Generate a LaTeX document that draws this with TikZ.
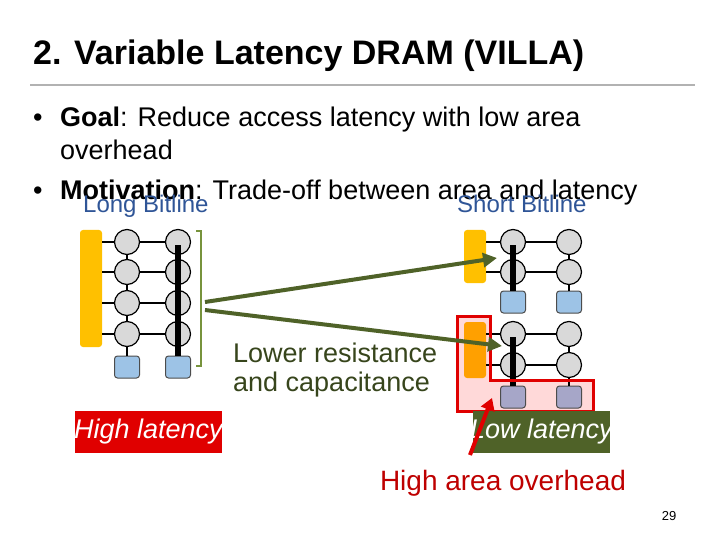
\documentclass[tikz,border=0pt]{standalone}
\usepackage{fontspec}
\setmainfont{Liberation Sans}
\usetikzlibrary{arrows.meta}
\definecolor{olive}{HTML}{4F6228}
\definecolor{olivel}{HTML}{77933C}
\definecolor{cellg}{HTML}{D9D9D9}
\definecolor{sqb}{HTML}{9DC3E6}
\definecolor{sqp}{HTML}{A6A6C8}
\definecolor{barY}{HTML}{FFC000}
\definecolor{barO}{HTML}{FFA000}
\definecolor{bl}{HTML}{2F5597}
\definecolor{redA}{HTML}{E00000}
\tikzset{
 cell/.style={circle,draw=black,line width=1.2pt,fill=cellg,minimum size=25pt,inner sep=0},
 sq/.style={rounded corners=3pt,draw=black!70,line width=1pt,fill=sqb,minimum width=25pt,minimum height=22pt,inner sep=0},
 wl/.style={line width=1.2pt},
 txt/.style={anchor=base west,inner sep=0,font=\fontsize{27}{32}\selectfont},
 lbl/.style={anchor=base west,inner sep=0,font=\fontsize{24}{28}\selectfont},
 garrow/.style={draw=olive,line width=4pt,-{Triangle[length=14pt,width=14pt]}},
}
\begin{document}
\begin{tikzpicture}[x=1pt,y=-1pt]
\useasboundingbox (0,0) rectangle (720,540);
\node[anchor=base west,inner sep=0,font=\fontsize{34}{40}\selectfont\bfseries] (title) at (33,65) {2. Variable Latency DRAM (VILLA)};
\draw[gray!60,line width=1.5pt] (30,85) -- (695,85);
\node[txt] (b1) at (33,127) {•};
\node[txt] (l1) at (60,127) {\textbf{Goal}: Reduce access latency with low area};
\node[txt] (l2) at (60,160) {overhead};
\node[txt] (b2) at (33,200) {•};
\node[txt] (l3) at (60,200) {\textbf{Motivation}: Trade-off between area and latency};
\node[lbl,text=bl] (lb) at (83,212) {Long Bitline};
\node[lbl,text=bl] (sb) at (457,212) {Short Bitline};
% left array
\fill[barY,rounded corners=3pt] (80,230) rectangle (102,347);
\foreach \y/\n in {242/1,272/2,303/3,334/4}{
  \draw[wl] (102,\y) -- (178,\y);
  \node[cell] (la\n) at (127,\y) {};
  \node[cell] (lb\n) at (178,\y) {};
}
\node[sq] (ls1) at (127,367) {};
\node[sq] (ls2) at (178,367) {};
\draw[wl] (la1)--(la2) (la2)--(la3) (la3)--(la4) (la4)--(ls1);
\draw[line width=6pt] (178,245) -- (ls2.north);
\draw[olivel,line width=1.5pt] (196,231) -- (201,231) -- (201,366) -- (196,366);
% right pink box
\fill[red!15] (457,316) -- (490,316) -- (490,380) -- (593,380) -- (593,411) -- (457,411) -- cycle;
% right top
\fill[barY,rounded corners=3pt] (464,230) rectangle (486,283);
\foreach \y/\n in {242/1,272/2}{
  \draw[wl] (486,\y) -- (569,\y);
  \node[cell] (ra\n) at (513,\y) {};
  \node[cell] (rb\n) at (569,\y) {};
}
\node[sq] (rs1) at (513,302) {};
\node[sq] (rs2) at (569,302) {};
\draw[wl] (rb1)--(rb2) (rb2)--(rs2);
\draw[line width=6pt] (513,245) -- (rs1.north);
% right bottom
\fill[barO,rounded corners=3pt] (464,322) rectangle (486,378);
\foreach \y/\n in {334/1,365/2}{
  \draw[wl] (486,\y) -- (569,\y);
  \node[cell] (rc\n) at (513,\y) {};
  \node[cell] (rd\n) at (569,\y) {};
}
\node[sq,fill=sqp] (rt1) at (513,397) {};
\node[sq,fill=sqp] (rt2) at (569,397) {};
\draw[wl] (rd1)--(rd2) (rd2)--(rt2);
\draw[line width=6pt] (513,337) -- (rt1.north);
\draw[redA,line width=3pt] (457,316) -- (490,316) -- (490,380) -- (593,380) -- (593,411) -- (457,411) -- cycle;
% arrows
\coordinate (s1) at (205,302); \coordinate (s2) at (205,310);
\coordinate (t1) at (497,258); \coordinate (t2) at (502,346);
\draw[garrow] (s1) -- (t1);
\draw[garrow] (s2) -- (t2);
\node[lbl,text=olive!70!black,font=\fontsize{27}{32}\selectfont] (lr1) at (233,362) {Lower resistance};
\node[lbl,text=olive!70!black,font=\fontsize{27}{32}\selectfont] (lr2) at (233,391) {and capacitance};
\fill[redA] (75,411) rectangle (222,453);
\fill[olive] (473,411) rectangle (610,453);
\node[inner sep=0,text=white,font=\fontsize{27}{32}\selectfont\itshape] (hl) at (148.5,432) {High latency};
\node[inner sep=0,text=white,font=\fontsize{27}{32}\selectfont\itshape] (ll) at (541.5,432) {Low latency};
\node[anchor=base,inner sep=0,text=redA!85!black,font=\fontsize{28}{32}\selectfont] (ha) at (503,490) {High area overhead};
\coordinate (ra) at (470,455);
\draw[redA,line width=4pt,-{Triangle[length=12pt,width=14pt]}] (ra) -- (492,398);
\node[anchor=base,inner sep=0,font=\fontsize{13}{15}\selectfont] (pg) at (669,520) {29};
\end{tikzpicture}
\end{document}
